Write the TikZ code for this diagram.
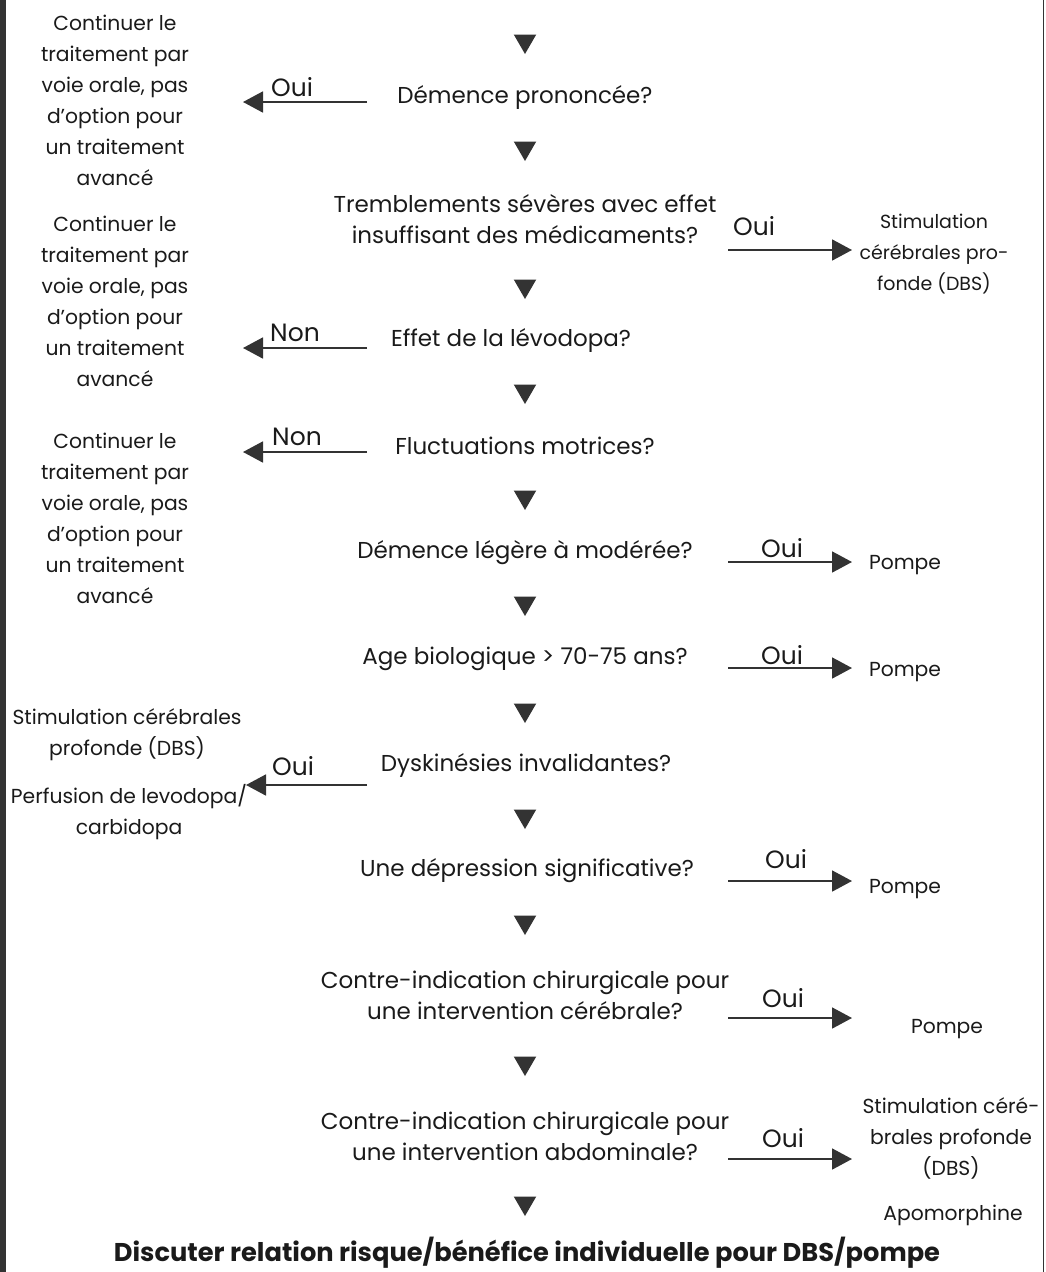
\documentclass[tikz,border=0pt]{standalone}
\usepackage{fontspec}
\setmainfont{Poppins}
\usetikzlibrary{arrows.meta,shapes.geometric}
\definecolor{inkgray}{HTML}{333333}
\definecolor{textgray}{HTML}{1A1A1A}

\begin{document}
\begin{tikzpicture}[x=1pt,y=-1pt,
    txt/.style={align=center, inner sep=0pt, text=textgray, font=\fontsize{23}{31}\selectfont},
    outtxt/.style={txt, font=\fontsize{20.3}{31}\selectfont},
    yesno/.style={txt, font=\fontsize{25}{31}\selectfont},
    downmark/.style={regular polygon, regular polygon sides=3, shape border rotate=180, fill=inkgray, inner sep=0pt, minimum size=26pt},
    side/.style={draw=inkgray, line width=1.8pt, -{Triangle[length=20pt,width=21pt]}}]
                \useasboundingbox (0,0) rectangle (1045,1272);
                % Page edges
                \fill[inkgray] (0,0) rectangle (6,1272);
                \draw[inkgray, line width=1.2pt] (1043.5,0) -- (1043.5,1272);

                % Questions (middle column)
                \node[txt] (q1) at (525,97) {Démence prononcée?};
                \node[txt] (q2) at (525,219) {Tremblements sévères avec effet\\insuffisant des médicaments?};
                \node[txt] (q3) at (511,340) {Effet de la lévodopa?};
                \node[txt] (q4) at (525,446) {Fluctuations motrices?};
                \node[txt] (q5) at (525,553) {Démence légère à modérée?};
                \node[txt] (q6) at (525,659) {Age biologique > 70-75 ans?};
                \node[txt] (q7) at (526,765) {Dyskinésies invalidantes?};
                \node[txt] (q8) at (527,871) {Une dépression significative?};
                \node[txt] (q9) at (525,995) {Contre-indication chirurgicale pour\\une intervention cérébrale?};
                \node[txt] (q10) at (525,1136) {Contre-indication chirurgicale pour\\une intervention abdominale?};
                \node[txt, font=\fontsize{25.7}{31}\selectfont\bfseries] (q11) at (527,1253) {Discuter relation risque/bénéfice individuelle pour DBS/pompe};

                % Down markers between the questions
                \node[downmark] (t0) at (525,41) {};
                \node[downmark] (t1) at (525,148) {};
                \node[downmark] (t2) at (525,286) {};
                \node[downmark] (t3) at (525,391) {};
                \node[downmark] (t4) at (525,497) {};
                \node[downmark] (t5) at (525,603) {};
                \node[downmark] (t6) at (525,710) {};
                \node[downmark] (t7) at (525,816) {};
                \node[downmark] (t8) at (525,922) {};
                \node[downmark] (t9) at (525,1063) {};
                \node[downmark] (t10) at (525,1203) {};

                % Left outcomes
                \node[outtxt] (lo1) at (115,100) {Continuer le\\traitement par\\voie orale, pas\\d'option pour\\un traitement\\avancé};
                \node[outtxt] (lo2) at (115,301) {Continuer le\\traitement par\\voie orale, pas\\d'option pour\\un traitement\\avancé};
                \node[outtxt] (lo3) at (115,518) {Continuer le\\traitement par\\voie orale, pas\\d'option pour\\un traitement\\avancé};
                \node[outtxt] (lo4) at (127,735) {Stimulation cérébrales\\profonde (DBS)};
                \node[outtxt] (lo5) at (129,812) {Perfusion de levodopa/\\carbidopa};

                % Right outcomes
                \node[outtxt, font=\fontsize{19}{31}\selectfont] (ro1) at (934,254) {Stimulation\\cérébrales pro-\\fonde (DBS)};
                \node[outtxt] (ro2) at (905,565) {Pompe};
                \node[outtxt] (ro3) at (905,672) {Pompe};
                \node[outtxt] (ro4) at (905,889) {Pompe};
                \node[outtxt] (ro5) at (947,1029) {Pompe};
                \node[outtxt] (ro6) at (951,1138) {Stimulation céré-\\brales profonde\\(DBS)};
                \node[outtxt] (ro7) at (953,1215) {Apomorphine};

                % Arrow ends
                \coordinate (q1a) at (367,102);   \coordinate (lo1a) at (243,102);
                \coordinate (q3a) at (367,348);   \coordinate (lo2a) at (243,348);
                \coordinate (q4a) at (367,452);   \coordinate (lo3a) at (243,452);
                \coordinate (q7a) at (367,785);   \coordinate (lo4a) at (246,785);
                \coordinate (q2a) at (728,250);   \coordinate (ro1a) at (852,250);
                \coordinate (q5a) at (728,562);   \coordinate (ro2a) at (852,562);
                \coordinate (q6a) at (728,668);   \coordinate (ro3a) at (852,668);
                \coordinate (q8a) at (728,881);   \coordinate (ro4a) at (852,881);
                \coordinate (q9a) at (728,1018);  \coordinate (ro5a) at (852,1018);
                \coordinate (q10a) at (728,1159); \coordinate (ro6a) at (852,1159);

                % Oui / Non arrows
                \draw[side] (q1a) -- (lo1a);
                \node[yesno] (l1) at (292,87) {Oui};
                \draw[side] (q3a) -- (lo2a);
                \node[yesno] (l3) at (295,333) {Non};
                \draw[side] (q4a) -- (lo3a);
                \node[yesno] (l4) at (297,437) {Non};
                \draw[side] (q7a) -- (lo4a);
                \node[yesno] (l7) at (293,766) {Oui};
                \draw[side] (q2a) -- (ro1a);
                \node[yesno] (l2) at (754,226) {Oui};
                \draw[side] (q5a) -- (ro2a);
                \node[yesno] (l5) at (782,548) {Oui};
                \draw[side] (q6a) -- (ro3a);
                \node[yesno] (l6) at (782,655) {Oui};
                \draw[side] (q8a) -- (ro4a);
                \node[yesno] (l8) at (786,859) {Oui};
                \draw[side] (q9a) -- (ro5a);
                \node[yesno] (l9) at (783,998) {Oui};
                \draw[side] (q10a) -- (ro6a);
                \node[yesno] (l10) at (783,1138) {Oui};
\end{tikzpicture}
\end{document}
